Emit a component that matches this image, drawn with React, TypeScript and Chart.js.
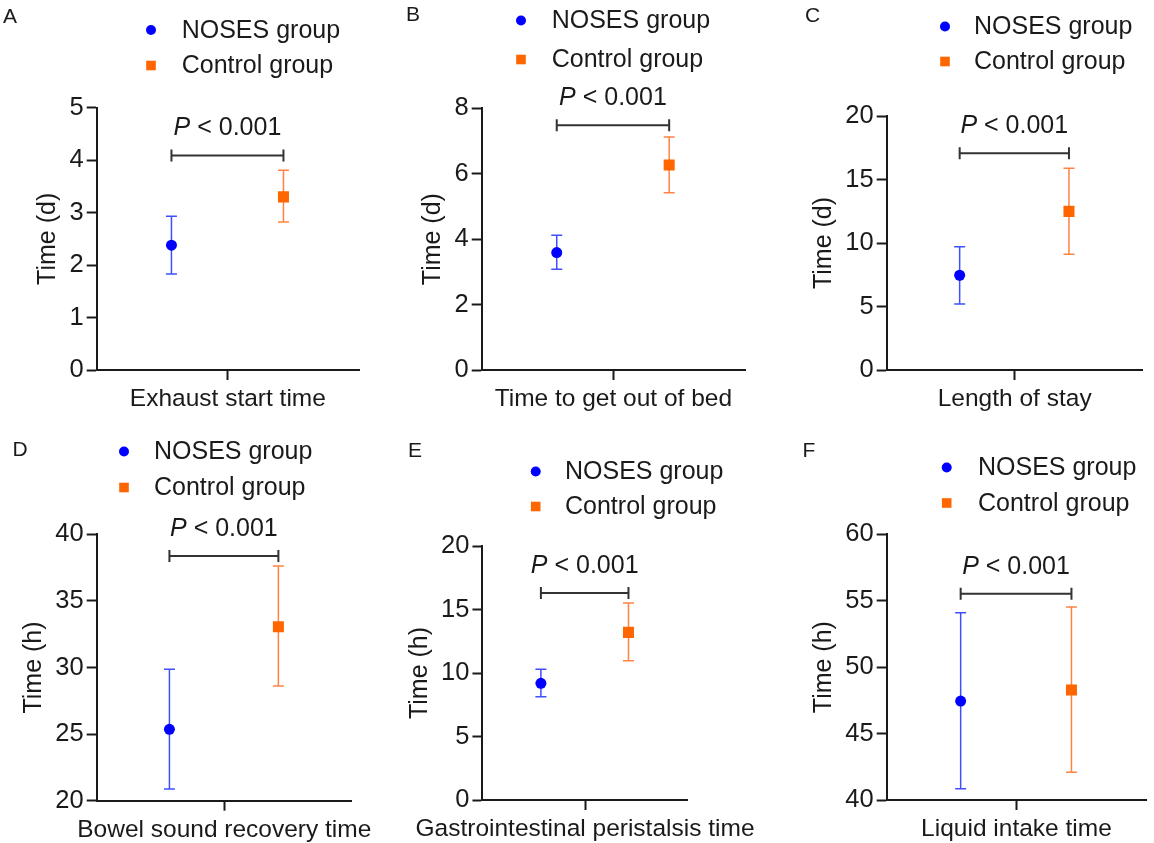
import React, { useEffect, useRef } from 'react';
import { Chart, registerables } from 'chart.js';

Chart.register(...registerables);

// ---------------- data ----------------
const GROUPS = ['NOSES group', 'Control group'];
const PANEL_LETTERS = ['A', 'B', 'C', 'D', 'E', 'F'];
const CATEGORIES = [
  'Exhaust start time',
  'Time to get out of bed',
  'Length of stay',
  'Bowel sound recovery time',
  'Gastrointestinal peristalsis time',
  'Liquid intake time',
];
const Y_TITLES = ['Time (d)', 'Time (d)', 'Time (d)', 'Time (h)', 'Time (h)', 'Time (h)'];
const NOSES_MEAN = [2.38, 3.59, 7.46, 25.36, 9.19, 47.45];
const NOSES_LOW = [1.83, 3.08, 5.2, 20.88, 8.13, 40.85];
const NOSES_HIGH = [2.93, 4.12, 9.71, 29.87, 10.29, 54.1];
const CONTROL_MEAN = [3.3, 6.27, 12.49, 33.06, 13.2, 48.28];
const CONTROL_LOW = [2.82, 5.42, 9.11, 28.61, 10.97, 42.09];
const CONTROL_HIGH = [3.81, 7.12, 15.88, 37.62, 15.51, 54.53];
const BRACKET_Y = [4.09, 7.48, 17.06, 38.37, 16.3, 55.53];
const P_LABEL_ITALIC = 'P';
const P_LABEL_REST = ' < 0.001';
const Y_MIN = [0, 0, 0, 20, 0, 40];
const Y_MAX = [5, 8, 20, 40, 20, 60];
const Y_STEP = [1, 2, 5, 5, 5, 5];

// ---------------- styles / layout ----------------
const GROUP_X = [0.285, 0.712];
const FONT = '"Liberation Sans", Arial, Helvetica, sans-serif';
const INK = '#1a1a1a';
const BLUE = '#0000ff';
const BLUE_ERR = '#3f4fff';
const ORANGE = '#ff6600';
const ORANGE_ERR = '#ff8444';
const TICK_LEN = 10;
const TICK_PAD = 3;
const Y_TICK_FONT = 25.5;

type Layout = {
  left: number; top: number; width: number; height: number;
  area: [number, number, number, number];
  legend: [number, number, number, number];
  letter: [number, number];
};

const LAYOUT: Layout[] = [
  { left: 0, top: 0, width: 380, height: 420, area: [96.7, 107.7, 359, 370], legend: [151, 30, 65.5, 181.7], letter: [10, 17] },
  { left: 380, top: 0, width: 390, height: 420, area: [481.7, 108.3, 745, 370], legend: [521, 20.5, 59.5, 551.7], letter: [413, 15] },
  { left: 770, top: 0, width: 384, height: 420, area: [886.7, 116, 1142.7, 370], legend: [945, 26.5, 61.5, 974], letter: [812.7, 16.7] },
  { left: 0, top: 420, width: 390, height: 423, area: [96.7, 534.3, 362.7, 800.7], legend: [124, 451.5, 487.5, 154], letter: [20, 450] },
  { left: 390, top: 420, width: 390, height: 423, area: [481.7, 546, 738.3, 800], legend: [535.7, 471.5, 506.5, 565], letter: [415, 451.7] },
  { left: 780, top: 420, width: 374, height: 423, area: [886.7, 534.3, 1153, 800], legend: [946.7, 467.5, 503, 978], letter: [809, 451.7] },
];

function Panel({ i }: { i: number }) {
  const ref = useRef<HTMLCanvasElement>(null);
  const L = LAYOUT[i];

  useEffect(() => {
    const [aL, aT, aR, aB] = L.area;
    const decor = {
      id: 'decor' + i,
      beforeDatasetsDraw(chart: any) {
        const ctx = chart.ctx;
        const xs = chart.scales.x;
        const ys = chart.scales.y;
        const bars: [number, number, string][] = [
          [NOSES_LOW[i], NOSES_HIGH[i], BLUE_ERR],
          [CONTROL_LOW[i], CONTROL_HIGH[i], ORANGE_ERR],
        ];
        bars.forEach(([lo, hi, col], g) => {
          const x = xs.getPixelForValue(GROUP_X[g]);
          const y1 = ys.getPixelForValue(lo);
          const y2 = ys.getPixelForValue(hi);
          ctx.save();
          ctx.strokeStyle = col;
          ctx.lineWidth = 1.5;
          ctx.beginPath();
          ctx.moveTo(x, y1); ctx.lineTo(x, y2);
          ctx.moveTo(x - 5.5, y1); ctx.lineTo(x + 5.5, y1);
          ctx.moveTo(x - 5.5, y2); ctx.lineTo(x + 5.5, y2);
          ctx.stroke();
          ctx.restore();
        });
      },
      afterDraw(chart: any) {
        const ctx = chart.ctx;
        const xs = chart.scales.x;
        const ys = chart.scales.y;
        ctx.save();
        // significance bracket
        const bx1 = xs.getPixelForValue(GROUP_X[0]);
        const bx2 = xs.getPixelForValue(GROUP_X[1]);
        const by = ys.getPixelForValue(BRACKET_Y[i]);
        ctx.strokeStyle = '#333333';
        ctx.lineWidth = 2;
        ctx.beginPath();
        ctx.moveTo(bx1, by); ctx.lineTo(bx2, by);
        ctx.moveTo(bx1, by - 6); ctx.lineTo(bx1, by + 6);
        ctx.moveTo(bx2, by - 6); ctx.lineTo(bx2, by + 6);
        ctx.stroke();
        // P text
        ctx.fillStyle = INK;
        ctx.textBaseline = 'middle';
        ctx.textAlign = 'left';
        const fItal = `italic 25px ${FONT}`;
        const fNorm = `25px ${FONT}`;
        ctx.font = fItal;
        const w1 = ctx.measureText(P_LABEL_ITALIC).width;
        ctx.font = fNorm;
        const w2 = ctx.measureText(P_LABEL_REST).width;
        const px = (bx1 + bx2) / 2 - (w1 + w2) / 2;
        const py = by - 27;
        ctx.font = fItal;
        ctx.fillText(P_LABEL_ITALIC, px, py);
        ctx.font = fNorm;
        ctx.fillText(P_LABEL_REST, px + w1, py);

        // legend
        const [mx, ly1, ly2, tx] = L.legend;
        const lx = mx - L.left;
        ctx.fillStyle = BLUE;
        ctx.beginPath();
        ctx.arc(lx, ly1 - L.top, 5, 0, Math.PI * 2);
        ctx.fill();
        ctx.fillStyle = ORANGE;
        ctx.fillRect(lx - 4.8, ly2 - L.top - 4.8, 9.6, 9.6);
        ctx.fillStyle = INK;
        ctx.font = `25px ${FONT}`;
        ctx.fillText(GROUPS[0], tx - L.left, ly1 - L.top + 1);
        ctx.fillText(GROUPS[1], tx - L.left, ly2 - L.top + 1);

        // panel letter
        ctx.font = `21px ${FONT}`;
        ctx.textAlign = 'center';
        ctx.fillText(PANEL_LETTERS[i], L.letter[0] - L.left, L.letter[1] - L.top);

        // y title
        ctx.font = `${Y_TICK_FONT}px ${FONT}`;
        let maxW = 0;
        ys.ticks.forEach((t: any) => {
          const w = ctx.measureText(String(t.label)).width;
          if (w > maxW) maxW = w;
        });
        const ca = chart.chartArea;
        const tX = ca.left - TICK_LEN - TICK_PAD - maxW - 21;
        const tY = (ca.top + ca.bottom) / 2;
        ctx.translate(tX, tY);
        ctx.rotate(-Math.PI / 2);
        ctx.font = `25px ${FONT}`;
        ctx.textAlign = 'center';
        ctx.textBaseline = 'middle';
        ctx.fillText(Y_TITLES[i], 0, 0);
        ctx.restore();
      },
    };

    const chart = new Chart(ref.current as HTMLCanvasElement, {
      type: 'scatter',
      data: {
        datasets: [
          {
            label: GROUPS[0],
            data: [{ x: GROUP_X[0], y: NOSES_MEAN[i] }],
            pointStyle: 'circle',
            pointRadius: 5.5,
            backgroundColor: BLUE,
            borderColor: BLUE,
            borderWidth: 0,
          },
          {
            label: GROUPS[1],
            data: [{ x: GROUP_X[1], y: CONTROL_MEAN[i] }],
            pointStyle: 'rect',
            pointRadius: 7.8,
            backgroundColor: ORANGE,
            borderColor: ORANGE,
            borderWidth: 0,
          },
        ],
      },
      options: {
        responsive: false,
        animation: false,
        devicePixelRatio: 1,
        layout: {
          padding: {
            left: 0,
            top: aT - L.top,
            right: L.left + L.width - aR,
            bottom: 0,
          },
        },
        plugins: { legend: { display: false }, tooltip: { enabled: false }, title: { display: false } },
        scales: {
          x: {
            type: 'linear',
            min: 0,
            max: 1,
            afterBuildTicks: (s: any) => { s.ticks = [{ value: 0.5 }]; },
            afterFit: (s: any) => { s.height = L.top + L.height - aB; },
            ticks: {
              callback: () => CATEGORIES[i],
              color: INK,
              font: { size: 24.5, family: FONT },
              padding: 5,
              maxRotation: 0,
              autoSkip: false,
            },
            grid: { display: true, drawOnChartArea: false, drawTicks: true, tickLength: TICK_LEN, tickWidth: 2, tickColor: INK },
            border: { display: true, color: INK, width: 2 },
          },
          y: {
            type: 'linear',
            min: Y_MIN[i],
            max: Y_MAX[i],
            afterFit: (s: any) => { s.width = aL - L.left; },
            ticks: {
              stepSize: Y_STEP[i],
              color: INK,
              font: { size: Y_TICK_FONT, family: FONT },
              padding: TICK_PAD,
            },
            grid: { display: true, drawOnChartArea: false, drawTicks: true, tickLength: TICK_LEN, tickWidth: 2, tickColor: INK },
            border: { display: true, color: INK, width: 2 },
          },
        },
      },
      plugins: [decor],
    } as any);
    return () => chart.destroy();
  }, [i]);

  return (
    <canvas
      ref={ref}
      width={L.width}
      height={L.height}
      style={{ position: 'absolute', left: L.left, top: L.top, width: L.width, height: L.height }}
    />
  );
}

export default function App() {
  return (
    <div style={{ position: 'absolute', left: 0, top: 0, width: 1154, height: 843, background: '#ffffff', overflow: 'hidden' }}>
      {LAYOUT.map((_, i) => (
        <Panel key={i} i={i} />
      ))}
    </div>
  );
}
